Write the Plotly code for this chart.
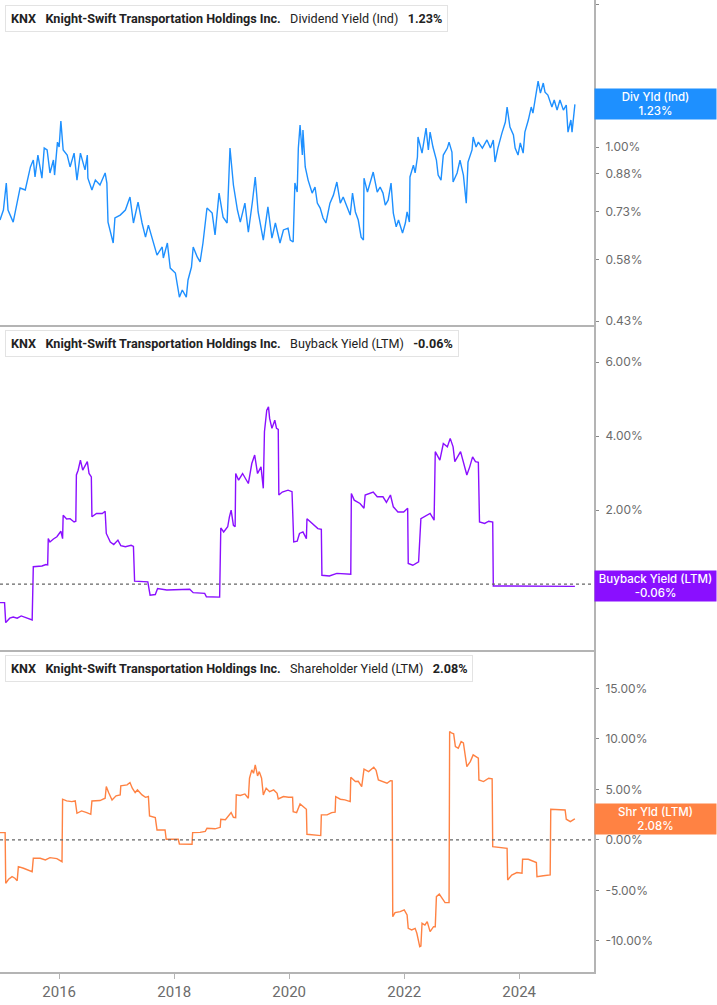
import numpy as np
import pandas as pd
import plotly.graph_objects as go
from plotly.subplots import make_subplots

# ---------------- DATA (decimal years, % values) ----------------
div_t = [2014.97, 2015.03, 2015.08, 2015.11, 2015.20, 2015.27, 2015.32, 2015.41, 2015.44, 2015.50,
         2015.55, 2015.58, 2015.63, 2015.70, 2015.74, 2015.79, 2015.84, 2015.90, 2015.92, 2015.97,
         2016.00, 2016.03, 2016.07, 2016.14, 2016.19, 2016.26, 2016.31, 2016.37, 2016.45, 2016.49,
         2016.50, 2016.57, 2016.63, 2016.71, 2016.80, 2016.83, 2016.85, 2016.94, 2016.97, 2017.06,
         2017.15, 2017.23, 2017.29, 2017.37, 2017.44, 2017.50, 2017.55, 2017.63, 2017.70, 2017.79,
         2017.81, 2017.88, 2017.93, 2018.02, 2018.09, 2018.14, 2018.21, 2018.24, 2018.30, 2018.33,
         2018.40, 2018.45, 2018.50, 2018.57, 2018.66, 2018.71, 2018.78, 2018.85, 2018.92, 2018.97,
         2019.03, 2019.10, 2019.15, 2019.23, 2019.29, 2019.36, 2019.41, 2019.46, 2019.55, 2019.63,
         2019.70, 2019.76, 2019.84, 2019.90, 2019.98, 2020.02, 2020.07, 2020.10, 2020.14, 2020.16,
         2020.19, 2020.23, 2020.24, 2020.28, 2020.33, 2020.40, 2020.45, 2020.49, 2020.54, 2020.59,
         2020.64, 2020.71, 2020.77, 2020.83, 2020.89, 2020.94, 2021.01, 2021.06, 2021.10, 2021.15,
         2021.20, 2021.25, 2021.29, 2021.30, 2021.36, 2021.41, 2021.46, 2021.53, 2021.58, 2021.63,
         2021.67, 2021.72, 2021.77, 2021.81, 2021.86, 2021.90, 2021.97, 2022.02, 2022.05, 2022.09,
         2022.10, 2022.16, 2022.19, 2022.23, 2022.24, 2022.31, 2022.33, 2022.38, 2022.42, 2022.45,
         2022.50, 2022.56, 2022.59, 2022.64, 2022.68, 2022.75, 2022.78, 2022.83, 2022.85, 2022.92,
         2022.97, 2023.03, 2023.08, 2023.11, 2023.18, 2023.20, 2023.25, 2023.29, 2023.36, 2023.44,
         2023.50, 2023.55, 2023.58, 2023.63, 2023.70, 2023.76, 2023.79, 2023.84, 2023.90, 2023.93,
         2023.98, 2024.02, 2024.07, 2024.10, 2024.16, 2024.21, 2024.24, 2024.30, 2024.33, 2024.37,
         2024.42, 2024.45, 2024.50, 2024.57, 2024.61, 2024.66, 2024.71, 2024.77, 2024.82, 2024.85,
         2024.90, 2024.92, 2024.94, 2024.97]
div_v = [0.702, 0.737, 0.840, 0.737, 0.695, 0.762, 0.820, 0.812, 0.844, 0.908,
         0.939, 0.865, 0.962, 0.860, 0.995, 0.986, 0.882, 0.939, 0.873, 1.024,
         1.000, 1.134, 0.986, 0.962, 0.908, 0.971, 0.852, 0.971, 0.895, 0.962,
         0.860, 0.812, 0.852, 0.832, 0.882, 0.840, 0.695, 0.628, 0.709, 0.719,
         0.737, 0.785, 0.692, 0.766, 0.692, 0.646, 0.685, 0.637, 0.592, 0.616,
         0.584, 0.628, 0.556, 0.543, 0.483, 0.500, 0.483, 0.525, 0.559, 0.616,
         0.587, 0.573, 0.628, 0.744, 0.726, 0.653, 0.800, 0.712, 0.692, 0.995,
         0.832, 0.737, 0.695, 0.762, 0.662, 0.766, 0.865, 0.730, 0.637, 0.748,
         0.643, 0.692, 0.628, 0.669, 0.675, 0.637, 0.631, 0.840, 0.804, 0.995,
         1.113, 0.962, 1.086, 0.908, 0.852, 0.800, 0.824, 0.762, 0.744, 0.709,
         0.692, 0.762, 0.792, 0.844, 0.762, 0.785, 0.748, 0.719, 0.800, 0.730,
         0.702, 0.646, 0.637, 0.860, 0.804, 0.840, 0.886, 0.804, 0.824, 0.800,
         0.755, 0.773, 0.840, 0.726, 0.679, 0.702, 0.659, 0.692, 0.730, 0.695,
         0.865, 0.916, 0.882, 0.953, 1.050, 0.971, 1.010, 1.096, 0.986, 1.075,
         1.000, 0.939, 0.873, 0.852, 0.962, 0.995, 1.024, 0.976, 0.844, 0.882,
         0.939, 0.873, 0.762, 0.930, 0.986, 1.050, 1.000, 1.024, 0.995, 1.035,
         0.995, 1.035, 0.930, 0.995, 1.070, 1.129, 1.214, 1.102, 1.060, 0.995,
         0.962, 1.020, 0.971, 1.075, 1.140, 1.214, 1.179, 1.299, 1.377, 1.299,
         1.364, 1.305, 1.287, 1.214, 1.256, 1.196, 1.256, 1.196, 1.226, 1.075,
         1.140, 1.075, 1.151, 1.23]

buy_t = [2014.97, 2015.05, 2015.07, 2015.14, 2015.20, 2015.27, 2015.34, 2015.43, 2015.53, 2015.55,
         2015.70, 2015.77, 2015.80, 2015.81, 2015.84, 2015.90, 2015.96, 2016.03, 2016.06, 2016.07,
         2016.13, 2016.19, 2016.26, 2016.29, 2016.30, 2016.33, 2016.37, 2016.41, 2016.46, 2016.49,
         2016.52, 2016.56, 2016.57, 2016.65, 2016.75, 2016.80, 2016.82, 2016.89, 2016.95, 2017.02,
         2017.07, 2017.15, 2017.25, 2017.29, 2017.31, 2017.54, 2017.58, 2017.67, 2017.71, 2017.87,
         2018.27, 2018.33, 2018.53, 2018.56, 2018.79, 2018.81, 2018.86, 2018.93, 2018.96, 2018.99,
         2019.03, 2019.06, 2019.07, 2019.12, 2019.19, 2019.24, 2019.29, 2019.35, 2019.40, 2019.45,
         2019.51, 2019.55, 2019.57, 2019.61, 2019.64, 2019.66, 2019.70, 2019.75, 2019.78, 2019.81,
         2019.82, 2019.88, 2019.98, 2020.05, 2020.08, 2020.14, 2020.18, 2020.24, 2020.30, 2020.31,
         2020.41, 2020.50, 2020.56, 2020.57, 2020.70, 2020.83, 2021.07, 2021.08, 2021.13, 2021.23,
         2021.30, 2021.32, 2021.46, 2021.53, 2021.63, 2021.69, 2021.76, 2021.81, 2021.89, 2021.99,
         2022.06, 2022.07, 2022.15, 2022.25, 2022.29, 2022.38, 2022.45, 2022.52, 2022.54, 2022.62,
         2022.68, 2022.75, 2022.80, 2022.85, 2022.88, 2022.98, 2023.04, 2023.09, 2023.14, 2023.19,
         2023.24, 2023.29, 2023.31, 2023.40, 2023.47, 2023.54, 2023.55, 2024.19, 2024.97]
buy_v = [-0.50, -0.50, -1.04, -0.92, -0.89, -0.92, -0.86, -0.91, -0.97, 0.47,
         0.49, 0.53, 0.52, 1.23, 1.14, 1.22, 1.28, 1.43, 1.23, 1.86,
         1.76, 1.77, 1.68, 1.70, 2.95, 3.08, 3.35, 3.08, 3.22, 3.31,
         2.99, 2.90, 1.82, 1.91, 1.91, 1.97, 1.37, 1.14, 1.07, 1.19,
         1.04, 1.01, 1.05, 1.02, 0.08, 0.06, -0.30, -0.28, -0.12, -0.16,
         -0.14, -0.23, -0.25, -0.34, -0.35, 1.52, 1.41, 1.55, 1.82, 2.00,
         1.59, 1.55, 2.99, 2.81, 2.99, 2.86, 2.72, 3.26, 3.49, 2.99,
         3.17, 2.59, 4.12, 4.70, 4.79, 4.48, 4.21, 4.43, 4.21, 4.18,
         2.41, 2.49, 2.54, 2.50, 1.14, 1.16, 1.37, 1.41, 1.23, 1.77,
         1.64, 1.50, 1.48, 0.24, 0.22, 0.29, 0.27, 2.45, 2.27, 2.18,
         2.05, 2.41, 2.49, 2.36, 2.36, 2.21, 2.41, 2.09, 1.95, 1.95,
         2.05, 0.56, 0.51, 0.60, 1.77, 1.86, 1.91, 1.73, 3.58, 3.35,
         3.80, 3.71, 3.94, 3.71, 3.31, 3.58, 3.22, 2.95, 3.17, 3.44,
         3.31, 3.29, 1.68, 1.64, 1.70, 1.68, -0.05, -0.06, -0.06]

shr_t = [2014.97, 2015.06, 2015.07, 2015.12, 2015.18, 2015.23, 2015.27, 2015.29, 2015.38, 2015.47,
         2015.53, 2015.55, 2015.67, 2015.76, 2015.84, 2015.96, 2016.05, 2016.06, 2016.13, 2016.22,
         2016.28, 2016.31, 2016.39, 2016.48, 2016.55, 2016.57, 2016.71, 2016.80, 2016.82, 2016.86,
         2016.92, 2016.99, 2017.06, 2017.07, 2017.18, 2017.23, 2017.27, 2017.32, 2017.36, 2017.44,
         2017.50, 2017.55, 2017.57, 2017.67, 2017.70, 2017.84, 2017.86, 2018.07, 2018.09, 2018.31,
         2018.32, 2018.45, 2018.54, 2018.57, 2018.71, 2018.80, 2018.81, 2018.89, 2018.94, 2018.99,
         2019.03, 2019.07, 2019.08, 2019.15, 2019.23, 2019.29, 2019.31, 2019.35, 2019.38, 2019.41,
         2019.45, 2019.48, 2019.52, 2019.55, 2019.60, 2019.66, 2019.73, 2019.79, 2019.81, 2019.90,
         2019.99, 2020.06, 2020.07, 2020.13, 2020.19, 2020.25, 2020.30, 2020.31, 2020.42, 2020.55,
         2020.56, 2020.66, 2020.74, 2020.80, 2020.81, 2020.89, 2020.97, 2021.06, 2021.07, 2021.15,
         2021.20, 2021.26, 2021.30, 2021.38, 2021.47, 2021.51, 2021.55, 2021.64, 2021.70, 2021.76,
         2021.79, 2021.80, 2021.84, 2021.93, 2022.00, 2022.05, 2022.07, 2022.13, 2022.19, 2022.22,
         2022.27, 2022.29, 2022.31, 2022.36, 2022.40, 2022.45, 2022.51, 2022.54, 2022.56, 2022.61,
         2022.66, 2022.71, 2022.78, 2022.79, 2022.83, 2022.86, 2022.89, 2022.94, 2022.99, 2023.03,
         2023.09, 2023.15, 2023.20, 2023.25, 2023.29, 2023.30, 2023.38, 2023.47, 2023.53, 2023.54,
         2023.79, 2023.80, 2023.87, 2023.96, 2024.05, 2024.06, 2024.16, 2024.30, 2024.31, 2024.42,
         2024.54, 2024.55, 2024.65, 2024.80, 2024.82, 2024.89, 2024.96, 2024.97]
shr_v = [0.72, 0.72, -4.29, -3.89, -3.63, -3.79, -4.03, -2.64, -2.80, -2.97,
         -3.14, -1.81, -1.81, -1.98, -1.75, -1.85, -2.15, 4.03, 3.86, 3.79,
         3.86, 2.64, 2.87, 2.71, 2.54, 3.86, 3.90, 4.13, 5.28, 4.69,
         3.96, 4.36, 4.46, 5.35, 5.45, 5.68, 5.12, 4.69, 4.95, 4.46,
         4.22, 4.30, 2.38, 2.21, 0.99, 0.99, 0.07, 0.07, -0.40, -0.43,
         0.72, 0.75, 0.85, 1.16, 1.10, 1.25, 2.05, 2.00, 2.31, 2.71,
         2.24, 2.20, 4.46, 4.40, 4.55, 4.13, 6.11, 6.93, 6.60, 7.43,
         6.34, 6.76, 6.11, 4.46, 5.12, 4.78, 4.95, 4.62, 4.06, 4.29,
         4.22, 4.22, 2.80, 2.71, 3.56, 3.24, 3.04, 0.56, 0.50, 0.43,
         2.48, 2.48, 2.71, 2.75, 4.29, 4.03, 3.96, 3.79, 6.21, 5.78,
         5.80, 5.28, 7.00, 6.76, 7.20, 6.90, 5.94, 5.78, 5.61, 5.87,
         5.85, -7.59, -7.19, -7.10, -6.93, -7.43, -8.75, -8.91, -8.75, -9.24,
         -10.56, -10.50, -8.25, -8.42, -8.09, -9.08, -8.58, -8.60, -5.61, -5.35,
         -5.78, -6.20, -6.20, 10.72, 10.56, 10.50, 9.24, 9.08, 9.73, 9.60,
         7.26, 7.75, 8.42, 8.19, 8.10, 5.94, 5.78, 6.11, 6.05, -0.66,
         -0.83, -3.96, -3.47, -3.23, -3.30, -1.91, -1.91, -2.24, -3.63, -3.55,
         -3.47, 3.04, 3.00, 2.97, 2.05, 1.81, 2.05, 2.08]

div_ticks = [0.43, 0.58, 0.73, 0.88, 1.00, 2.00]
buy_ticks = [0, 2, 4, 6]
shr_ticks = [-10, -5, 0, 5, 10, 15]
year_ticks = [2016, 2018, 2020, 2022, 2024]

company = "Knight-Swift Transportation Holdings Inc."
ticker = "KNX"
panels = [
    dict(name="Dividend Yield (Ind)", short="Div Yld (Ind)", last=1.23, color="#1E90FF"),
    dict(name="Buyback Yield (LTM)", short="Buyback Yield (LTM)", last=-0.06, color="#8A0FFF"),
    dict(name="Shareholder Yield (LTM)", short="Shr Yld (LTM)", last=2.08, color="#FF8243"),
]

# ---------------- helpers ----------------
def to_date(y):
    yi = int(np.floor(y))
    return pd.Timestamp(yi, 1, 1) + pd.Timedelta(days=(y - yi) * 365.25)

W, H = 717, 1005
PW = 594            # plot width in px
PH = 972            # plot height in px (bottom axis line)

def px(xp):
    return xp / PW

def py(yp):
    return 1 - yp / PH

fig = make_subplots(rows=3, cols=1, shared_xaxes=True, vertical_spacing=0.0)

series = [(div_t, div_v), (buy_t, buy_v), (shr_t, shr_v)]
for i, ((t, v), p) in enumerate(zip(series, panels)):
    fig.add_trace(go.Scatter(x=[to_date(a) for a in t], y=v, mode="lines",
                             line=dict(color=p["color"], width=1.4),
                             showlegend=False, hoverinfo="skip"), row=i + 1, col=1)

domains = [[py(325), 1.0], [py(650), py(327)], [0.0, py(652)]]
axis_col = "#b4b4b4"
tickfont = dict(family="Inter, Liberation Sans, sans-serif", size=12, color="#6b6b6b")

xr = [to_date(2014.97), to_date(2025.30)]
for i in range(3):
    xa = "xaxis" if i == 0 else f"xaxis{i+1}"
    fig.layout[xa].update(range=xr, showgrid=False, zeroline=False, showline=True,
                          linecolor=axis_col, linewidth=2, showticklabels=(i == 2),
                          ticks="outside" if i == 2 else "", ticklen=5, tickcolor=axis_col,
                          tickvals=[to_date(y) for y in year_ticks] if i == 2 else None,
                          ticktext=[str(y) for y in year_ticks] if i == 2 else None,
                          tickfont=dict(family="Liberation Sans Narrow, Roboto, sans-serif",
                                        size=15, color="#6b6b6b"))

# the 0.00% label of the buyback panel sits hidden under its value tag in the original
buy_text = ["" if v == 0 else f"{v:.2f}%" for v in buy_ticks]

fig.update_layout(
    yaxis=dict(type="log", range=[np.log10(0.422), np.log10(2.04)], side="right",
               tickvals=div_ticks, ticktext=[f"{v:.2f}%" for v in div_ticks],
               domain=domains[0]),
    yaxis2=dict(range=[-1.78, 6.95], side="right", tickvals=buy_ticks,
                ticktext=buy_text, domain=domains[1]),
    yaxis3=dict(range=[-13.07, 18.6], side="right", tickvals=shr_ticks,
                ticktext=[f"{v:.2f}%" for v in shr_ticks], domain=domains[2]),
)
for ya in ["yaxis", "yaxis2", "yaxis3"]:
    fig.layout[ya].update(showgrid=False, zeroline=False, showline=True, linecolor=axis_col,
                          linewidth=2, ticks="outside", ticklen=3, tickcolor="#888",
                          tickfont=tickfont, ticklabelstandoff=4)

shapes = []
# dotted zero lines
for yref in ["y2", "y3"]:
    shapes.append(dict(type="line", xref="paper", yref=yref, x0=0, x1=1, y0=0, y1=0,
                       line=dict(color="#666", width=1.3, dash="dot")))

annotations = []
legend_tops = [5, 330, 655]
sp = "&nbsp;&nbsp;&nbsp;"
for i, p in enumerate(panels):
    top = legend_tops[i]
    val = f"{p['last']:.2f}%"
    txt = (f"<b>{ticker}</b>{sp}<b>{company}</b>{sp}"
           f"{p['name']}{sp}<b>{val}</b>")
    annotations.append(dict(xref="paper", yref="paper", x=px(5), y=py(top), xanchor="left",
                            yanchor="top", showarrow=False, text=txt, align="left",
                            font=dict(family="Roboto, Liberation Sans, sans-serif", size=12.6,
                                      color="#222"),
                            bgcolor="white", bordercolor="#e3e3e3", borderwidth=1, borderpad=5))
    shapes.append(dict(type="rect", xref="paper", yref="paper", x0=px(5), x1=px(8),
                       y0=py(top + 25), y1=py(top), fillcolor=p["color"], line=dict(width=0),
                       layer="above"))
    # right-side value tag
    yref = "y" if i == 0 else f"y{i+1}"
    yv = np.log10(p["last"]) if i == 0 else p["last"]
    annotations.append(dict(xref="paper", yref=yref, x=1, y=yv, xanchor="left", yanchor="middle",
                            showarrow=False, text=f"{p['short']}<br>{val}", align="center",
                            width=121, height=30, bgcolor=p["color"], borderpad=0,
                            font=dict(family="Inter, Liberation Sans, sans-serif", size=11.5,
                                      color="white", weight=500)))

fig.update_layout(width=W, height=H, margin=dict(l=0, r=W - PW, t=0, b=H - PH),
                  paper_bgcolor="white", plot_bgcolor="white",
                  shapes=shapes, annotations=annotations)

fig.write_html("out.html", config={"displayModeBar": False},
               post_script="document.body.style.margin='0';document.body.style.padding='0';")
